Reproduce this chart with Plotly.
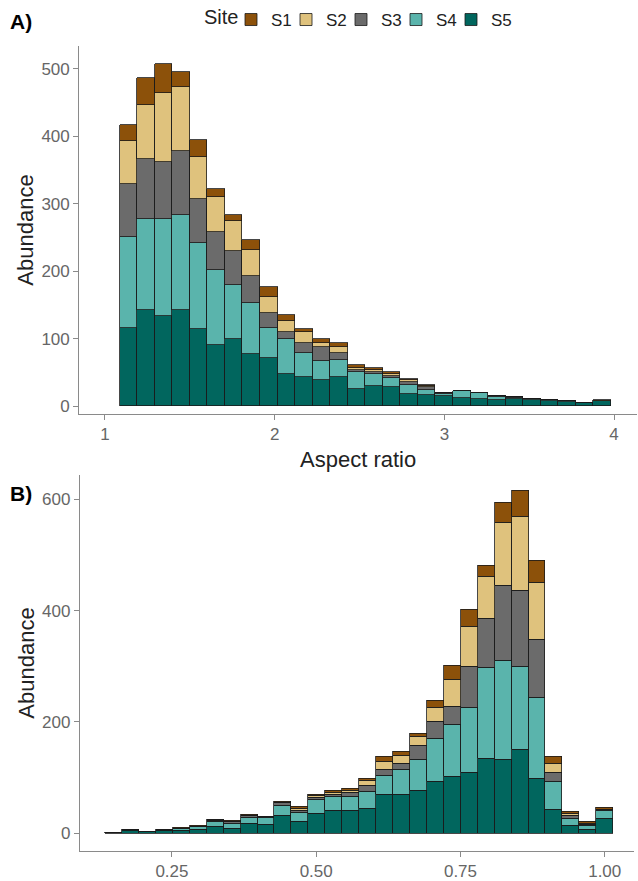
import plotly.graph_objects as go

# Sites and fill colours
sites = ["S1", "S2", "S3", "S4", "S5"]
site_colors = ["#8C510A", "#DFC27D", "#6B6B6B", "#5AB4AC", "#01665E"]

# Panel A: aspect ratio histogram (bin start and bin width)
ar_start = 1.088
ar_width = 0.1034
ar_S1 = [24, 40, 44, 22, 26, 13, 9, 15, 15, 9, 5, 5, 7, 4, 3, 3, 2, 2, 1, 1, 1, 0, 0, 0, 0, 0, 0, 1]
ar_S2 = [63, 79, 102, 95, 62, 52, 45, 38, 23, 16, 16, 7, 8, 3, 3, 3, 2, 1, 0, 0, 0, 0, 0, 0, 0, 0, 0, 0]
ar_S3 = [79, 89, 84, 95, 64, 55, 50, 40, 22, 11, 14, 20, 11, 4, 3, 3, 5, 4, 1, 0, 0, 1, 1, 0, 0, 0, 0, 0]
ar_S4 = [134, 135, 143, 141, 128, 112, 79, 76, 45, 51, 36, 28, 25, 24, 18, 14, 13, 7, 3, 10, 8, 5, 2, 1, 2, 1, 0, 0]
ar_S5 = [116, 142, 134, 142, 114, 90, 100, 77, 71, 48, 43, 39, 43, 26, 29, 28, 18, 17, 15, 12, 11, 9, 10, 9, 7, 6, 5, 8]

# Panel B: second shape index histogram
b_start = 0.1342
b_width = 0.02935
b_S1 = [0, 0, 0, 0, 1, 1, 1, 1, 1, 0, 2, 4, 2, 3, 4, 5, 9, 6, 5, 14, 25, 31, 20, 37, 46, 39, 12, 3, 4, 4]
b_S2 = [0, 0, 0, 0, 0, 0, 1, 0, 1, 0, 0, 3, 3, 3, 4, 9, 13, 15, 16, 25, 49, 71, 75, 112, 134, 103, 16, 3, 1, 0]
b_S3 = [0, 0, 0, 1, 1, 1, 2, 3, 3, 1, 5, 4, 3, 5, 7, 10, 11, 10, 25, 30, 33, 75, 88, 136, 136, 104, 17, 5, 3, 1]
b_S4 = [0, 1, 0, 0, 4, 5, 9, 9, 10, 13, 18, 16, 25, 24, 25, 30, 35, 46, 56, 78, 93, 116, 163, 178, 150, 146, 49, 13, 6, 14]
b_S5 = [1, 5, 2, 5, 4, 6, 12, 9, 18, 15, 32, 21, 36, 41, 41, 45, 69, 69, 77, 92, 102, 109, 135, 132, 150, 98, 43, 14, 7, 27]

ar_counts = [ar_S1, ar_S2, ar_S3, ar_S4, ar_S5]
b_counts = [b_S1, b_S2, b_S3, b_S4, b_S5]


def centers(start, width, n):
    return [start + width * (i + 0.5) for i in range(n)]


ar_x = centers(ar_start, ar_width, len(ar_S5))
b_x = centers(b_start, b_width, len(b_S5))

fig = go.Figure()

# empty spacer entry so the last legend label has room (shown after S5)
fig.add_trace(go.Bar(
    x=[None], y=[None], name=" ", hoverinfo="skip",
    marker=dict(color="rgba(0,0,0,0)", line=dict(width=0)),
    xaxis="x", yaxis="y", showlegend=True,
))

# stack S5 at the bottom, S1 on top
for k in reversed(range(len(sites))):
    fig.add_trace(go.Bar(
        x=ar_x, y=ar_counts[k], width=ar_width, name=sites[k],
        marker=dict(color=site_colors[k], line=dict(color="#1a1a1a", width=0.8)),
        xaxis="x", yaxis="y", legendgroup=sites[k], showlegend=True,
    ))
for k in reversed(range(len(sites))):
    fig.add_trace(go.Bar(
        x=b_x, y=b_counts[k], width=b_width, name=sites[k],
        marker=dict(color=site_colors[k], line=dict(color="#1a1a1a", width=0.8)),
        xaxis="x2", yaxis="y2", legendgroup=sites[k], showlegend=False,
    ))

W, H = 638, 881
FONT = "Liberation Sans, Arial, sans-serif"
axis_common = dict(
    showline=True, linecolor="#8a8a8a", linewidth=1.3,
    ticks="outside", ticklen=5, tickcolor="#8a8a8a", tickwidth=1.2,
    showgrid=False, zeroline=False,
    tickfont=dict(family=FONT, size=17, color="#666666"),
)
title_font = dict(family=FONT, size=22, color="#222222")

fig.update_layout(
    width=W, height=H,
    margin=dict(l=0, r=0, t=0, b=0),
    paper_bgcolor="white", plot_bgcolor="white",
    barmode="stack", bargap=0,
    font=dict(family=FONT, color="#222222"),
    xaxis=dict(
        domain=[79.3 / W, 637 / W], anchor="y", range=[0.849, 4.135],
        tickvals=[1, 2, 3, 4], ticktext=["1", "2", "3", "4"],
        title=dict(text="Aspect ratio", font=title_font, standoff=8),
        **axis_common,
    ),
    yaxis=dict(
        domain=[1 - 419.3 / H, 1 - 47 / H], anchor="x", range=[-10.6, 533],
        tickvals=[0, 100, 200, 300, 400, 500],
        title=dict(text="Abundance", font=title_font, standoff=1),
        **axis_common,
    ),
    xaxis2=dict(
        domain=[80 / W, 634 / W], anchor="y2", range=[0.0907, 1.0507],
        tickvals=[0.25, 0.5, 0.75, 1.0], ticktext=["0.25", "0.50", "0.75", "1.00"],
        **axis_common,
    ),
    yaxis2=dict(
        domain=[1 - 862.3 / H, 1 - 482 / H], anchor="x2", range=[-31.5, 643],
        tickvals=[0, 200, 400, 600],
        title=dict(text="Abundance", font=title_font, standoff=1),
        **axis_common,
    ),
    legend=dict(
        orientation="h", x=231 / W, xanchor="left", y=1 - 2 / H, yanchor="top",
        traceorder="reversed",
        font=dict(family=FONT, size=17, color="#222222"),
        itemwidth=30, entrywidth=10, entrywidthmode="pixels",
        bgcolor="rgba(0,0,0,0)",
    ),
    annotations=[
        dict(text="Site", x=202 / W, y=1 - 17 / H, xref="paper", yref="paper",
             xanchor="left", yanchor="middle", showarrow=False,
             font=dict(family=FONT, size=20, color="#222222")),
        dict(text="<b>A)</b>", x=8 / W, y=1 - 8 / H, xref="paper", yref="paper",
             xanchor="left", yanchor="top", showarrow=False,
             font=dict(family=FONT, size=21, color="#000000")),
        dict(text="<b>B)</b>", x=8 / W, y=1 - 487 / H, xref="paper", yref="paper",
             xanchor="left", yanchor="top", showarrow=False,
             font=dict(family=FONT, size=21, color="#000000")),
    ],
)

fig.write_html("out.html")
